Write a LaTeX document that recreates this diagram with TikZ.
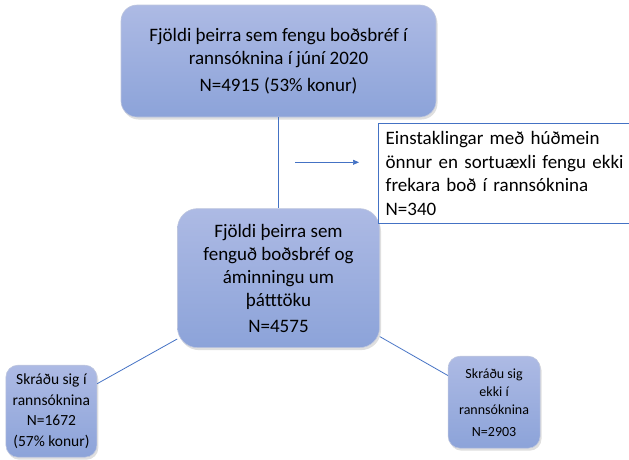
\documentclass[tikz,border=0pt]{standalone}
\usepackage{fontspec}
\setmainfont{Carlito}
\usetikzlibrary{positioning,arrows.meta,shadows}

\definecolor{boxTop}{RGB}{173,186,228}
\definecolor{boxBottom}{RGB}{140,163,217}
\definecolor{boxEdge}{RGB}{190,198,222}
\definecolor{linkBlue}{RGB}{68,114,196}

\tikzset{
  flowbox/.style={draw=boxEdge, line width=0.6pt, top color=boxTop, bottom color=boxBottom,
    rounded corners=#1, align=center, inner sep=2pt,
    drop shadow={opacity=0.25, shadow xshift=1.5pt, shadow yshift=-2.5pt}},
  flowbox/.default=16pt,
  notebox/.style={draw=linkBlue, line width=0.8pt, fill=white, align=left, inner xsep=7pt},
  link/.style={draw=linkBlue, line width=0.8pt}
}

\begin{document}
\begin{tikzpicture}
  \useasboundingbox (0,0) rectangle (629pt,-459pt);

  \node (invitedAll)
        [flowbox, minimum width=315pt, minimum height=112pt,
         font=\fontsize{19pt}{23pt}\selectfont]
        at (278.5pt,-61pt)
        {Fjöldi þeirra sem fengu boðsbréf í\\ rannsóknina í júní 2020\\[4pt] N=4915 (53\% konur)};
  \node (remindedAll)
        [flowbox=20pt, minimum width=202pt, minimum height=139pt,
         font=\fontsize{19pt}{23pt}\selectfont,
         below=91pt of invitedAll]
        {Fjöldi þeirra sem\\ fenguð boðsbréf og\\ áminningu um\\ þátttöku\\[3pt] N=4575};
  \node (excludedOther)
        [notebox, text width=248pt, minimum height=100pt,
         font=\fontsize{19pt}{23.5pt}\selectfont,
         below right=6pt and -58pt of invitedAll.south east]
        {Einstaklingar með húðmein\\ önnur en sortuæxli fengu ekki\\ frekara boð í rannsóknina\\ N=340};
  \node (signedUp)
        [flowbox=12pt, minimum width=91pt, minimum height=92pt,
         font=\fontsize{15.5pt}{20.5pt}\selectfont,
         below left=17pt and 80pt of remindedAll.south west]
        {Skráðu sig í\\ rannsóknina\\ N=1672\\ (57\% konur)};
  \node (notSignedUp)
        [flowbox=12pt, minimum width=92pt, minimum height=92pt,
         font=\fontsize{14pt}{18pt}\selectfont,
         below right=8pt and 68pt of remindedAll.south east]
        {Skráðu sig\\ ekki í\\ rannsóknina\\[4pt] N=2903};

  \coordinate [below right=45pt and 16.5pt of invitedAll.south] (gapStart);
  \coordinate [right=64pt of gapStart] (gapEnd);

  \draw[link] (invitedAll.south) -- (remindedAll.north);
  \draw[link, line width=0.6pt, -{Triangle[length=6pt,width=5pt]}] (gapStart) -- (gapEnd);
  \draw[link] (remindedAll.211) -- (signedUp.31);
  \draw[link] (remindedAll.-30) -- (notSignedUp.150);
\end{tikzpicture}
\end{document}
